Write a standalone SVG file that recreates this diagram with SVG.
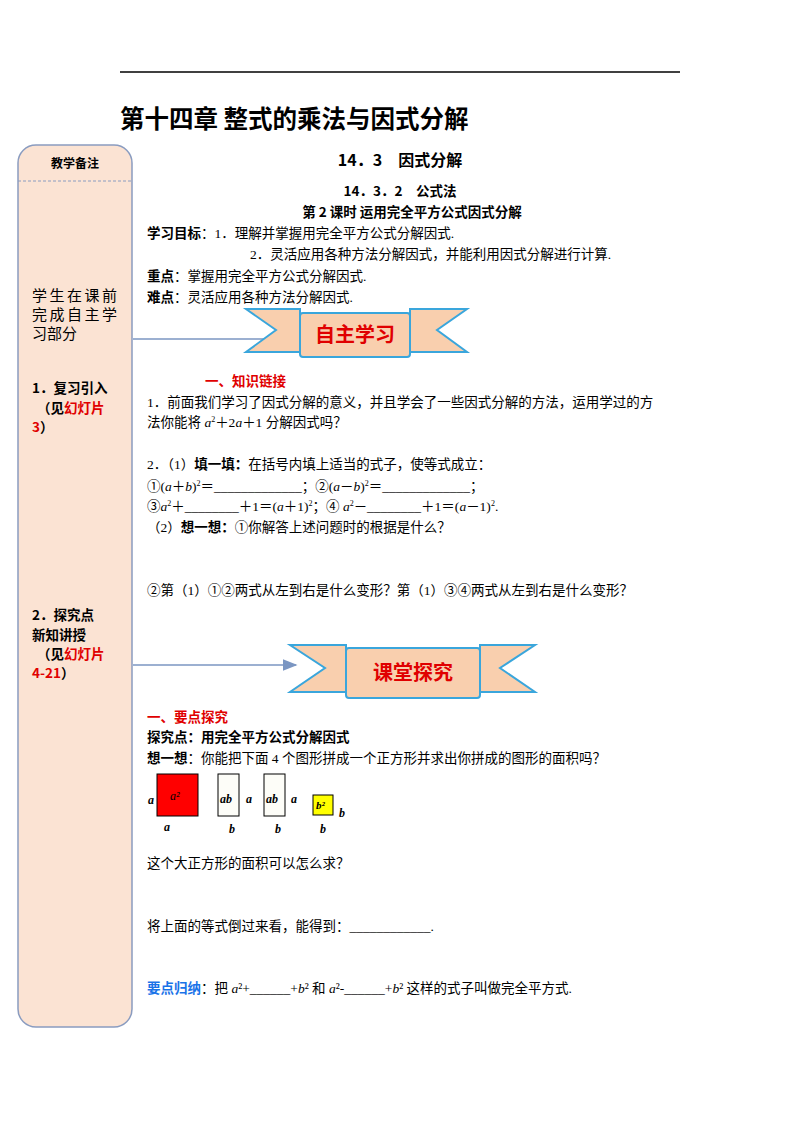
<svg xmlns="http://www.w3.org/2000/svg" width="800" height="1132" viewBox="0 0 800 1132" font-size="13.5">
<defs>
<style>
text{font-family:"Liberation Serif","Noto Sans CJK SC",serif;fill:#000}
.b{font-weight:bold}
.r{fill:#e00000}
.bl{fill:#1a73e8}
.s{font-family:"Noto Sans CJK SC",sans-serif}
.i{font-style:italic}
.tail{fill:#f9cfae;stroke:#3aa6dc;stroke-width:2}
.ban{font-family:"Noto Sans CJK SC",sans-serif;font-weight:bold;font-size:20px;fill:#e00000}
</style>
<marker id="ar" markerWidth="10" markerHeight="8" refX="9" refY="4" orient="auto"><path d="M0,0L10,4L0,8z" fill="#7b96c2"/></marker>
</defs>
<rect width="800" height="1132" fill="#fff"/>
<line x1="120" y1="72" x2="680" y2="72" stroke="#000" stroke-width="1.5"/>
<text x="120" y="128" class="b s" font-size="24.5">第十四章 整式的乘法与因式分解</text>
<g id="sidebar">
<rect x="18" y="145" width="114" height="882" rx="18" fill="#fbe3d3" stroke="#8a9cc0" stroke-width="1.5"/>
<line x1="18" y1="181" x2="132" y2="181" stroke="#8a9cc0" stroke-dasharray="3,2"/>
<text x="75" y="168" text-anchor="middle" class="b s" font-size="12">教学备注</text>
<text x="32" y="301" class="s" font-size="15" letter-spacing="2.5">学生在课前</text>
<text x="32" y="320" class="s" font-size="15" letter-spacing="2.5">完成自主学</text>
<text x="32" y="339" class="s" font-size="15">习部分</text>
<text x="32" y="393" class="b s" font-size="13.5">1．复习引入</text>
<text x="37" y="413" class="b s" font-size="13.5">（见<tspan class="r">幻灯片</tspan></text>
<text x="32" y="432" class="b s r" font-size="13.5">3<tspan fill="#000">）</tspan></text>
<text x="32" y="620" class="b s" font-size="13.5">2．探究点</text>
<text x="32" y="640" class="b s" font-size="13.5">新知讲授</text>
<text x="37" y="659" class="b s" font-size="13.5">（见<tspan class="r">幻灯片</tspan></text>
<text x="32" y="678" class="b s r" font-size="13.5">4-21<tspan fill="#000">）</tspan></text>
</g>
<g id="connectors">
<line x1="133" y1="339" x2="296" y2="339" stroke="#7b96c2" stroke-width="1.5" marker-end="url(#ar)"/>
<line x1="133" y1="665" x2="296" y2="665" stroke="#7b96c2" stroke-width="1.5" marker-end="url(#ar)"/>
</g>
<g id="banner1">
<path class="tail" d="M246,309H300V352H246L276,330Z"/>
<path class="tail" d="M410,309H467L437,330L467,352H410Z"/>
<rect x="300" y="313" width="110" height="44" rx="3" fill="#f9cfae" stroke="#3aa6dc" stroke-width="2"/>
<text x="355" y="342" text-anchor="middle" class="ban">自主学习</text>
</g>
<g id="banner2">
<path class="tail" d="M290,645H346V692H290L325,668Z"/>
<path class="tail" d="M480,645H535L500,668L535,692H480Z"/>
<rect x="346" y="648" width="134" height="50" rx="3" fill="#f9cfae" stroke="#3aa6dc" stroke-width="2"/>
<text x="413" y="680" text-anchor="middle" class="ban">课堂探究</text>
</g>
<text x="400" y="166" text-anchor="middle" class="b s" font-size="16">14．3　因式分解</text>
<text x="400" y="196" text-anchor="middle" class="b s" font-size="13.5">14．3．2　公式法</text>
<text x="412" y="217" text-anchor="middle" class="b s" font-size="13.5">第 2 课时  运用完全平方公式因式分解</text>
<text x="147" y="238"><tspan class="b">学习目标</tspan>：1．理解并掌握用完全平方公式分解因式.</text>
<text x="250" y="259">2．灵活应用各种方法分解因式，并能利用因式分解进行计算.</text>
<text x="147" y="281"><tspan class="b">重点</tspan>：掌握用完全平方公式分解因式.</text>
<text x="147" y="302"><tspan class="b">难点</tspan>：灵活应用各种方法分解因式.</text>
<text x="205" y="386" class="b r">一、知识链接</text>
<text x="147" y="407">1．前面我们学习了因式分解的意义，并且学会了一些因式分解的方法，运用学过的方</text>
<text x="147" y="427">法你能将 <tspan class="i">a</tspan><tspan font-size="8" dy="-5">2</tspan><tspan dy="5">＋2</tspan><tspan class="i">a</tspan>＋1 分解因式吗？</text>
<text x="147" y="469">2．（1）<tspan class="b">填一填：</tspan>在括号内填上适当的式子，使等式成立：</text>
<text x="147" y="491">①(<tspan class="i">a</tspan>＋<tspan class="i">b</tspan>)<tspan font-size="8" dy="-5">2</tspan><tspan dy="5">＝_____________；②(</tspan><tspan class="i">a</tspan>－<tspan class="i">b</tspan>)<tspan font-size="8" dy="-5">2</tspan><tspan dy="5">＝_____________；</tspan></text>
<text x="147" y="511">③<tspan class="i">a</tspan><tspan font-size="8" dy="-5">2</tspan><tspan dy="5">＋________＋1＝(</tspan><tspan class="i">a</tspan>＋1)<tspan font-size="8" dy="-5">2</tspan><tspan dy="5">；④ </tspan><tspan class="i">a</tspan><tspan font-size="8" dy="-5">2</tspan><tspan dy="5">－________＋1＝(</tspan><tspan class="i">a</tspan>－1)<tspan font-size="8" dy="-5">2</tspan><tspan dy="5">.</tspan></text>
<text x="147" y="532">（2）<tspan class="b">想一想：</tspan>①你解答上述问题时的根据是什么？</text>
<text x="147" y="595">②第（1）①②两式从左到右是什么变形？第（1）③④两式从左到右是什么变形？</text>
<text x="147" y="722" class="b r">一、要点探究</text>
<text x="147" y="742" class="b">探究点：用完全平方公式分解因式</text>
<text x="147" y="763"><tspan class="b">想一想</tspan>：你能把下面 4 个图形拼成一个正方形并求出你拼成的图形的面积吗？</text>
<g id="shapes">
<rect x="157" y="774" width="41" height="42" fill="#f00" stroke="#000"/>
<text x="170" y="800" class="i" font-size="12">a²</text>
<text x="148" y="804" class="i b" font-size="12">a</text>
<text x="164" y="831" class="i b" font-size="12">a</text>
<rect x="218" y="774" width="21" height="42" fill="#fdfdf8" stroke="#000"/>
<text x="220" y="803" class="i b" font-size="12">ab</text>
<text x="246" y="803" class="i b" font-size="12">a</text>
<text x="229" y="833" class="i b" font-size="12">b</text>
<rect x="264" y="774" width="21" height="42" fill="#fdfdf8" stroke="#000"/>
<text x="266" y="803" class="i b" font-size="12">ab</text>
<text x="291" y="803" class="i b" font-size="12">a</text>
<text x="275" y="833" class="i b" font-size="12">b</text>
<rect x="313" y="795" width="20" height="20" fill="#ff0" stroke="#000"/>
<text x="316" y="809" class="i b" font-size="11">b²</text>
<text x="339" y="817" class="i b" font-size="12">b</text>
<text x="320" y="833" class="i b" font-size="12">b</text>
</g>
<text x="147" y="868">这个大正方形的面积可以怎么求？</text>
<text x="147" y="931">将上面的等式倒过来看，能得到：____________.</text>
<text x="147" y="993"><tspan class="b bl">要点归纳</tspan>：把 <tspan class="i">a</tspan>²+______+<tspan class="i">b</tspan>² 和 <tspan class="i">a</tspan>²-______+<tspan class="i">b</tspan>² 这样的式子叫做完全平方式.</text>
</svg>
